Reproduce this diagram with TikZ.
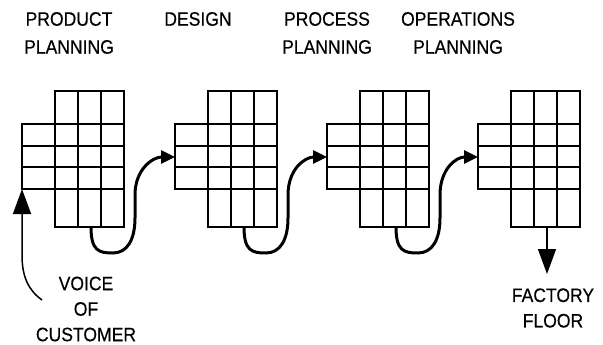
\documentclass[tikz,border=0pt]{standalone}
\usepackage{fontspec}
\setmainfont[FakeStretch=0.9,FakeBold=0.4]{Liberation Sans}
\usetikzlibrary{arrows.meta}
\begin{document}
\begin{tikzpicture}[x=1pt,y=-1pt,
  gridline/.style={line width=1.5pt,line join=miter},
  flow/.style={line width=3pt,-{Triangle[length=14pt,width=13pt]}},
  bigarrow/.style={line width=1.5pt,-{Triangle[length=25pt,width=18pt]}},
  lbl/.style={align=center,inner sep=0pt,font=\fontsize{19.5}{28}\selectfont},
  lblb/.style={align=center,inner sep=0pt,font=\fontsize{19.5}{25.5}\selectfont}]
\useasboundingbox (0,0) rectangle (603,345);
% matrix origins
\coordinate (m1) at (22,0);
\coordinate (m2) at (175,0);
\coordinate (m3) at (327,0);
\coordinate (m4) at (478,0);
\foreach \m in {m1,m2,m3,m4}{
  \begin{scope}[shift={(\m)}]
    \draw[gridline] (33,91) rectangle (102,227);
    \draw[gridline] (0,124) rectangle (33,189);
    \foreach \yy in {124,146,167,189}
      \draw[gridline] (0,\yy) -- (102,\yy);
    \foreach \xx in {56,79}
      \draw[gridline] (\xx,91) -- (\xx,227);
  \end{scope}
}
% connectors between matrices
\foreach \a/\b in {m1/m2,m2/m3,m3/m4}{
  \draw[flow] ([shift={(69,227)}]\a) .. controls +(0,24) and +(-14,0) ..
    ([shift={(91,253)}]\a) .. controls +(14,0) and +(0,22) ..
    ([shift={(113,218)}]\a) -- ([shift={(113,195)}]\a)
    .. controls +(0,-26) and +(-22,0) .. ([shift={(0,157)}]\b);
}
% voice of customer
\coordinate (vc) at (42,300);
\draw[bigarrow] (vc) .. controls (28,290) and (22,276) .. (22,255) -- ([shift={(0,189)}]m1);
\node[lblb] (voice) at (86,309) {VOICE\\OF\\CUSTOMER};
% factory floor
\coordinate (ff) at (547,274);
\draw[bigarrow] ([shift={(69,227)}]m4) -- (ff);
\node[lblb] (floor) at (553,308) {FACTORY\\FLOOR};
% titles
\node[lbl] (t1) at (69,33) {PRODUCT\\PLANNING};
\node[lbl] (t2) at (198,19) {DESIGN};
\node[lbl] (t3) at (327,33) {PROCESS\\PLANNING};
\node[lbl] (t4) at (458,33) {OPERATIONS\\PLANNING};
\end{tikzpicture}
\end{document}
